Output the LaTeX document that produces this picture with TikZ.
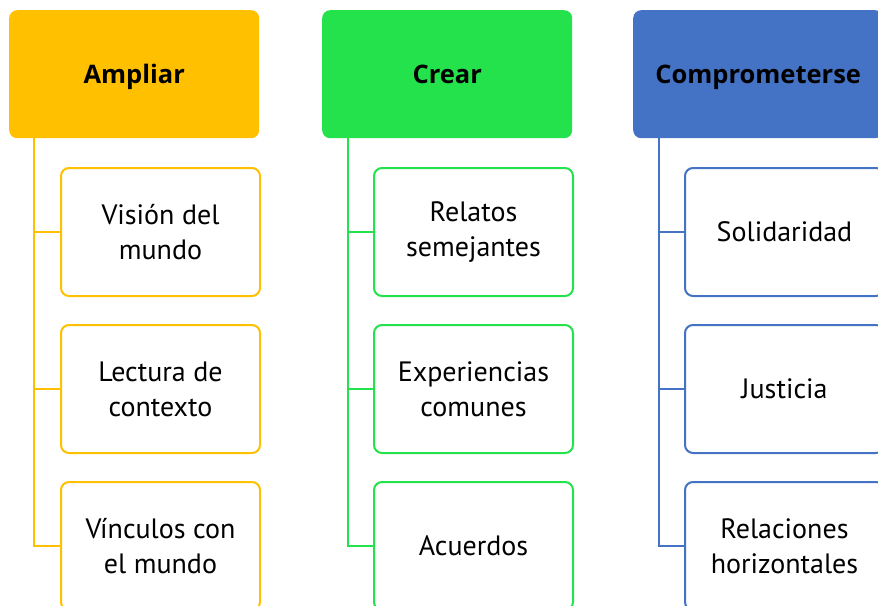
\documentclass[tikz,border=0pt]{standalone}
\usepackage{fontspec}
\setmainfont{PT Sans}
\newfontfamily\headfont{Open Sans}
\definecolor{cyel}{HTML}{FFC000}
\definecolor{cgrn}{HTML}{24E24C}
\definecolor{cblu}{HTML}{4472C4}
\begin{document}
\begin{tikzpicture}[x=1pt,y=-1pt,
  head/.style={fill=#1,draw=none,rounded corners=8pt,minimum width=250pt,minimum height=128pt,
    inner sep=0pt,text height=24pt,text depth=6pt,anchor=north west,
    font=\headfont\fontsize{25.5}{28}\selectfont\bfseries,text=black},
  child/.style={draw=#1,line width=2pt,fill=white,rounded corners=8pt,minimum width=199pt,minimum height=128pt,
    inner sep=0pt,anchor=north west,align=center,font=\fontsize{28}{35}\selectfont,text=black},
  link/.style={draw=#1,line width=2pt}]
\useasboundingbox (0,0) rectangle (878,605);
\clip (0,0) rectangle (878,605);
% column 1
\node[head=cyel] (h1) at (9,10) {Ampliar};
\node[child=cyel] (a1) at (60,167) {Visión del\\mundo};
\node[child=cyel] (a2) at (60,324) {Lectura de\\contexto};
\node[child=cyel] (a3) at (60,481) {Vínculos con\\el mundo};
\coordinate (t1) at ([xshift=-26pt]a1.west |- h1.south);
\draw[link=cyel] (t1) |- (a3.west);
\draw[link=cyel] (t1 |- a1.west) -- (a1.west);
\draw[link=cyel] (t1 |- a2.west) -- (a2.west);
% column 2
\node[head=cgrn] (h2) at (322,10) {Crear};
\node[child=cgrn] (b1) at (373,167) {Relatos\\semejantes};
\node[child=cgrn] (b2) at (373,324) {Experiencias\\comunes};
\node[child=cgrn] (b3) at (373,481) {Acuerdos};
\coordinate (t2) at ([xshift=-25pt]b1.west |- h2.south);
\draw[link=cgrn] (t2) |- (b3.west);
\draw[link=cgrn] (t2 |- b1.west) -- (b1.west);
\draw[link=cgrn] (t2 |- b2.west) -- (b2.west);
% column 3
\node[head=cblu] (h3) at (633,10) {Comprometerse};
\node[child=cblu] (c1) at (684,167) {Solidaridad};
\node[child=cblu] (c2) at (684,324) {Justicia};
\node[child=cblu] (c3) at (684,481) {Relaciones\\horizontales};
\coordinate (t3) at ([xshift=-25pt]c1.west |- h3.south);
\draw[link=cblu] (t3) |- (c3.west);
\draw[link=cblu] (t3 |- c1.west) -- (c1.west);
\draw[link=cblu] (t3 |- c2.west) -- (c2.west);
\end{tikzpicture}
\end{document}
